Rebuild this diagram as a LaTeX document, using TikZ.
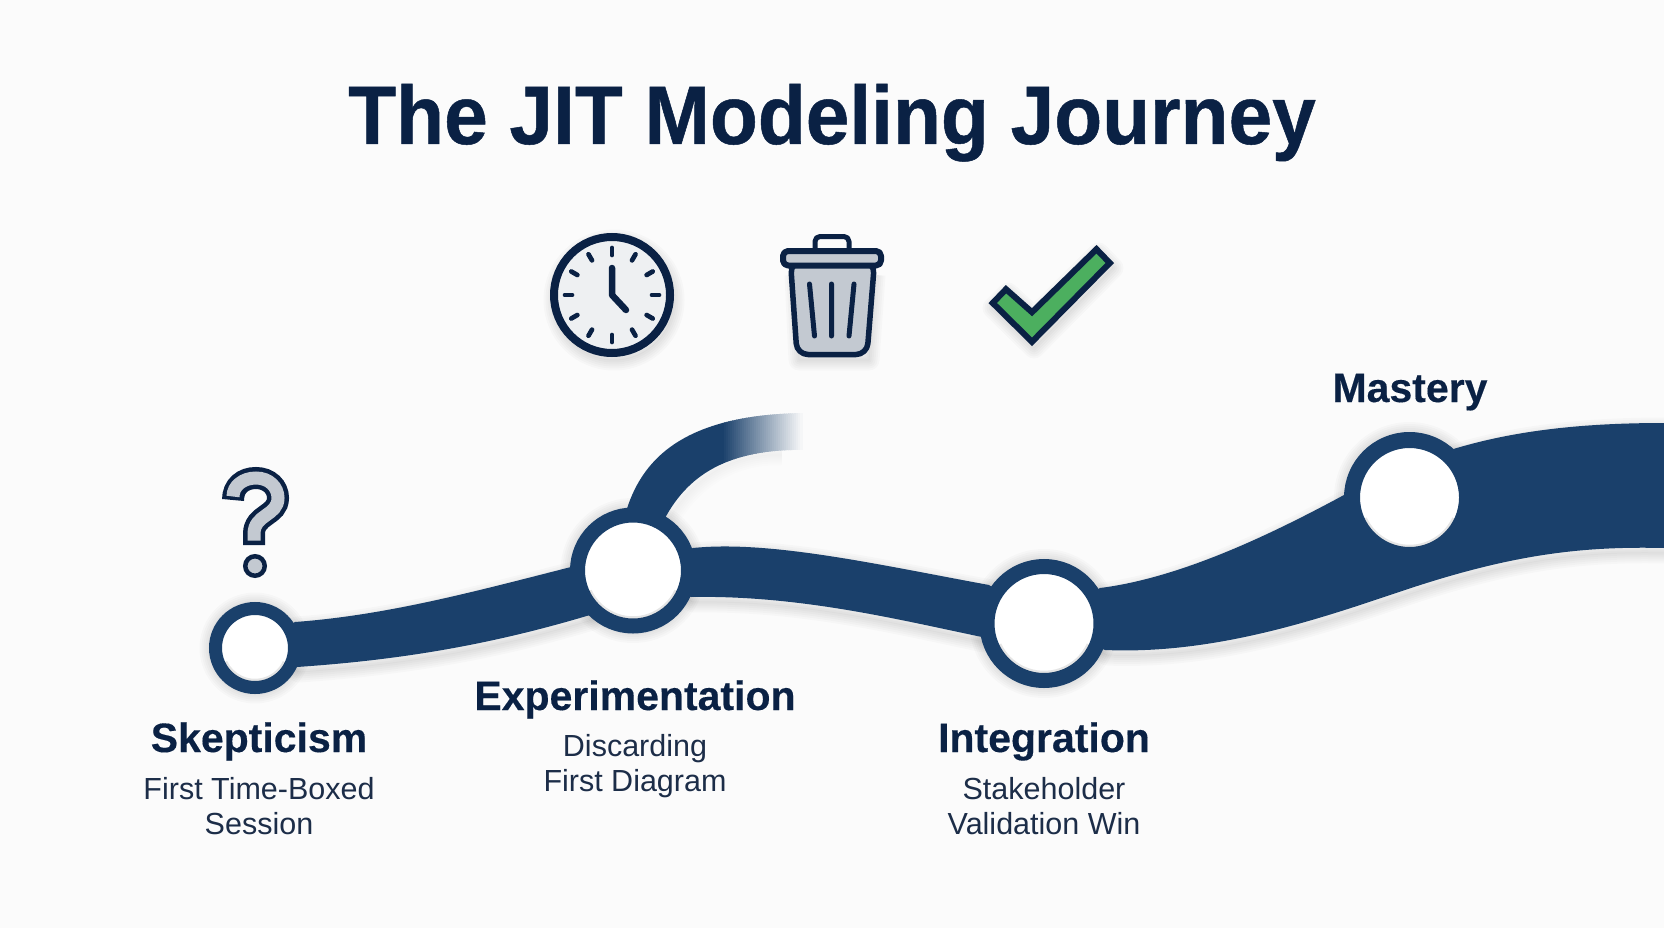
\documentclass[tikz,border=0pt]{standalone}
\usepackage{fontspec}
\setmainfont{Liberation Sans}
\newfontfamily\titlefont[UprightFont=* Bold,FakeBold=0.6,FakeStretch=0.945]{Liberation Sans}
\newfontfamily\headfont[UprightFont=* Bold,FakeBold=0.3]{Liberation Sans}
\usetikzlibrary{backgrounds}
\definecolor{pagewhite}{HTML}{FBFBFB}
\definecolor{bandblue}{HTML}{1A406B}
\definecolor{inknavy}{HTML}{0A2144}
\definecolor{subnavy}{HTML}{1C2D48}
\definecolor{facegray}{HTML}{EEF0F2}
\definecolor{bingray}{HTML}{C3C9D1}
\definecolor{tickgreen}{HTML}{4CAF5F}
\newcommand{\softshadow}[2][0.02]{\foreach \w in {1,5,9,13,17,21}{\draw[black,opacity=#1,line width=\w,line join=round,xshift=2pt,yshift=-5pt] #2;}}
\newcommand{\bandone}{(stage1.center) -- (295,622) .. controls (390,615) and (480,590) .. (575,566) -- (stage2.center) -- (590,615) .. controls (490,645) and (400,660) .. (297,667) -- cycle}
\newcommand{\bandtwo}{(stage2.center) -- (693,548) .. controls (770,540) and (880,565) .. (989,585) -- (stage3.center) -- (982,637) .. controls (900,620) and (800,595) .. (691,597) -- cycle}
\newcommand{\bandthree}{(stage3.center) -- (1100,588) .. controls (1180,578) and (1270,535) .. (1344,495) .. controls (1430,450) and (1510,423) .. (1664,423) -- (1690,423) -- (1690,548) -- (1664,548) .. controls (1580,546) and (1510,555) .. (1405,590) .. controls (1330,615) and (1220,655) .. (1105,650) -- cycle}
\begin{document}
\begin{tikzpicture}[x=1pt,y=-1pt]
\tikzstyle{stage}=[circle,draw=bandblue,fill=white,inner sep=0pt,outer sep=0pt]
\tikzstyle{heading}=[text=inknavy,font=\headfont\fontsize{41}{47}\selectfont,anchor=base]
\tikzstyle{detail}=[text=subnavy,font=\fontsize{30.5}{35}\selectfont,align=center,anchor=north,inner sep=0pt]
\tikzstyle{outline}=[draw=inknavy,line join=round]
\useasboundingbox (0,0) rectangle (1664,928);
\node[stage,line width=13,minimum size=79] (stage1) at (255,648){};
\node[stage,line width=15,minimum size=111] (stage2) at (633,570.5){};
\node[stage,line width=15,minimum size=114] (stage3) at (1044,623.5){};
\node[stage,line width=16,minimum size=115] (stage4) at (1409.5,497.5){};
\foreach \s/\r in {stage1/32,stage2/47,stage3/48.5,stage4/48.5}{
\draw[black,opacity=0.1,line width=2.5] (\s) ++(25:\r) arc[start angle=25,end angle=155,radius=\r];}
\begin{scope}[on background layer]
\fill[pagewhite] (0,0) rectangle (1664,928);
\softshadow{(stage1) circle (45)}
\softshadow{(stage2) circle (62)}
\softshadow{(stage3) circle (64)}
\softshadow{(stage4) circle (65)}
\softshadow{\bandone}
\softshadow{\bandtwo}
\softshadow{\bandthree}
\softshadow[0.008]{(664,520) .. controls (690,470) and (735,448) .. (780,450)}
\begin{scope}
\clip (625,515) .. controls (640,462) and (680,413) .. (810,413) -- (810,450) .. controls (735,448) and (690,470) .. (664,520) -- cycle;
\fill[bandblue] (610,400) rectangle (723,530);
\foreach \i in {0,...,39}{
\pgfmathsetmacro\fade{100-2.5*\i}
\fill[bandblue!\fade!pagewhite] (722+2*\i,400) rectangle (725+2*\i,470);}
\end{scope}
\fill[bandblue] \bandone;
\fill[bandblue] \bandtwo;
\fill[bandblue] \bandthree;
\end{scope}
\node[text=inknavy,font=\titlefont\fontsize{83}{90}\selectfont,anchor=base] (title) at (832,144) {The JIT Modeling Journey};
\node[heading] (skepticism) at (259,752) {Skepticism};
\node[detail] (skepticismtext) at (259,777) {First Time-Boxed\\Session};
\node[heading] (experimentation) at (635,710) {Experimentation};
\node[detail] (experimentationtext) at (635,734) {Discarding\\First Diagram};
\node[heading] (integration) at (1044,752) {Integration};
\node[detail] (integrationtext) at (1044,777) {Stakeholder\\Validation Win};
\node[heading] (mastery) at (1410,402) {Mastery};
\softshadow{(612,295) circle (60)}
\node[circle,draw=inknavy,fill=facegray,line width=8,minimum size=116,inner sep=0pt] (clock) at (612,295){};
\foreach \a in {0,30,...,330}{\draw[inknavy,line width=4.7,line cap=round] (clock) ++(\a:40) -- ++(\a:7);}
\draw[inknavy,line width=6.5,line cap=round,line join=round] (612,268) -- (clock.center) -- (626,310);
\softshadow{(793,270) -- (797,355) -- (867,355) -- (873,270)}
\draw[outline,line width=5,rounded corners=5,fill=none] (815,248) -- (815,236.5) -- (849,236.5) -- (849,248);
\draw[outline,line width=5.5,fill=bingray,rounded corners=11] (790.5,262) -- (797,354.5) -- (867,354.5) -- (874.5,262) -- cycle;
\draw[outline,line width=6,fill=bingray,rounded corners=5] (783,251) rectangle (881,265.5);
\draw[inknavy,line width=5,line cap=round] (809.5,284) -- (814.5,336) (831.5,284) -- (831.5,336) (854,284) -- (849,336);
\softshadow{(1096.5,248) -- (1111,263) -- (1032,343) -- (991,303) -- (1006,288) -- (1032,312) -- cycle}
\filldraw[draw=inknavy,line join=miter,line width=6,fill=tickgreen] (1096.5,249.2) -- (1109.8,263) -- (1032,341.8) -- (992.7,303) -- (1006,289.2) -- (1032,312.2) -- cycle;
\draw[inknavy,line width=22] (233,500) .. controls (233,486) and (243,478) .. (256,478) .. controls (269,478) and (278,487) .. (278,498) .. controls (278,516) and (254,514) .. (254,534) -- (254,545);
\draw[bingray,line width=13] (233,496.5) .. controls (233,486) and (243,478) .. (256,478) .. controls (269,478) and (278,487) .. (278,498) .. controls (278,516) and (254,514) .. (254,534) -- (254,540.5);
\draw[inknavy,line width=4.5,fill=bingray] (255,566) circle (9.75);
\end{tikzpicture}
\end{document}
